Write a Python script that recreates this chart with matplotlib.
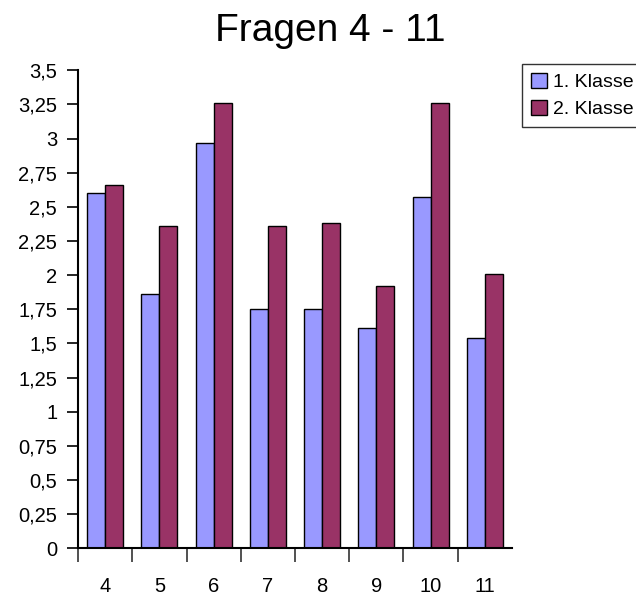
import numpy as np
import matplotlib
matplotlib.use("Agg")
import matplotlib.pyplot as plt
from matplotlib.ticker import FixedLocator, FuncFormatter

plt.rcParams['font.family'] = ['Liberation Sans', 'DejaVu Sans']

# data
fragen = ['4', '5', '6', '7', '8', '9', '10', '11']
klasse1 = [2.60, 1.86, 2.97, 1.75, 1.75, 1.61, 2.57, 1.54]
klasse2 = [2.66, 2.36, 3.26, 2.36, 2.38, 1.92, 3.26, 2.01]
series_names = ['1. Klasse', '2. Klasse']
colors = ['#9999FF', '#993366']

W, H = 636, 596
fig = plt.figure(figsize=(W / 100, H / 100), dpi=100)
ax = fig.add_axes([78 / W, 1 - 548.3 / H, (512 - 78) / W, (548.3 - 70.3) / H])

x = np.arange(len(fragen))
bw = 0.33
b1 = ax.bar(x - bw / 2, klasse1, bw, color=colors[0], edgecolor='black', linewidth=1.0,
            label=series_names[0])
b2 = ax.bar(x + bw / 2, klasse2, bw, color=colors[1], edgecolor='black', linewidth=1.0,
            label=series_names[1])

ax.set_xlim(-0.5, len(fragen) - 0.5)
ax.set_ylim(0, 3.5)

# y axis: 0 .. 3.5 in steps of 0.25, german decimal comma
yt = np.arange(0, 3.51, 0.25)
ax.yaxis.set_major_locator(FixedLocator(yt))
ax.yaxis.set_major_formatter(FuncFormatter(lambda v, p: ('%g' % v).replace('.', ',')))
ax.tick_params(axis='y', length=8, width=1.2, pad=7, labelsize=14.5, direction='out')

# x axis: labels at centres, tick marks between categories (none at the right end)
ax.set_xticks(x)
ax.set_xticklabels(fragen)
ax.set_xticks(np.arange(-0.5, len(fragen) - 1), minor=True)
ax.tick_params(axis='x', which='major', length=0, pad=21, labelsize=14.5)
ax.tick_params(axis='x', which='minor', length=10, width=1.2, direction='out', color='#333333')

for s in ['top', 'right']:
    ax.spines[s].set_visible(False)
for s in ['left', 'bottom']:
    ax.spines[s].set_linewidth(1.5)
    ax.spines[s].set_color('black')

fig.text(330 / W, 1 - 31 / H, 'Fragen 4 - 11', ha='center', va='center', fontsize=28)

leg = fig.legend(handles=[b1, b2], loc='upper left', bbox_to_anchor=(522 / W, 1 - 64 / H),
                 fontsize=14, frameon=True, fancybox=False, borderpad=0.45,
                 handlelength=0.85, handleheight=0.85, handletextpad=0.3, labelspacing=0.45,
                 borderaxespad=0)
leg.get_frame().set_edgecolor('black')
leg.get_frame().set_linewidth(1.0)

fig.savefig('out.png', dpi=100)
